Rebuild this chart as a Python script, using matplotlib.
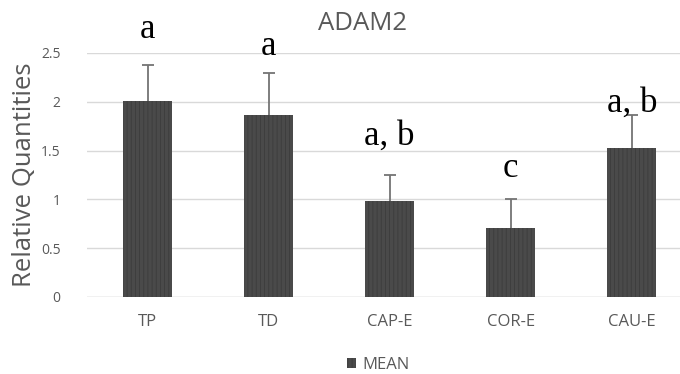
import matplotlib
matplotlib.use("Agg")
import matplotlib.pyplot as plt
from matplotlib.patches import Patch

categories = ["TP", "TD", "CAP-E", "COR-E", "CAU-E"]
means = [2.01, 1.86, 0.98, 0.71, 1.53]
err_up = [0.37, 0.43, 0.27, 0.29, 0.33]
letters = ["a", "a", "a, b", "c", "a, b"]
letter_y = [2.65, 2.48, 1.56, 1.23, 1.90]
yticks = [0, 0.5, 1, 1.5, 2, 2.5]
ytick_labels = ["0", "0.5", "1", "1.5", "2", "2.5"]

plt.rcParams['hatch.linewidth'] = 0.6
fig = plt.figure(figsize=(6.8, 3.74), dpi=100)
ax = fig.add_axes([87/680, 1-297/374, 593/680, (297-53)/374])

x = list(range(len(categories)))
bars = ax.bar(x, means, width=0.405, color='#4a4a4a', edgecolor='#3c3c3c',
              hatch='||||', linewidth=0, zorder=3)
eb = ax.errorbar(x, means, yerr=[[0]*len(means), err_up], fmt='none',
                 ecolor='#747474', elinewidth=1.3, capsize=4, capthick=1.3, zorder=4)
caplines = eb[1]
if len(caplines) >= 2:
    caplines[0].set_visible(False)

for xi, t, yy in zip(x, letters, letter_y):
    ax.text(xi, yy, t, ha='center', va='baseline', fontsize=25,
            family='Liberation Serif', color='black', zorder=5)

ax.set_xlim(-0.5, 4.397)
ax.set_ylim(0, 2.5)
ax.set_yticks(yticks)
ax.set_yticklabels(ytick_labels)
ax.set_xticks(x)
ax.set_xticklabels(categories)
ax.tick_params(axis='both', length=0, labelcolor='#595959')
ax.tick_params(axis='x', labelsize=12, pad=12)
ax.tick_params(axis='y', labelsize=10, pad=19)
for lab in ax.get_xticklabels() + ax.get_yticklabels():
    lab.set_family('Open Sans')
ax.yaxis.grid(True, color='#d9d9d9', linewidth=1, zorder=0)
for s in ax.spines.values():
    s.set_visible(False)
ax.axhline(0, color='#d9d9d9', linewidth=1, zorder=1)

ax.set_ylabel("Relative Quantities", fontsize=18.5, color='#595959',
              family='Open Sans')
ax.yaxis.set_label_coords((37-87)/593, 0.5)
fig.text(362/680, 1-30/374, "ADAM2", ha='center', va='baseline', fontsize=18.5,
         color='#595959', family='Open Sans')

handle = Patch(facecolor='#4a4a4a', edgecolor='#3c3c3c', hatch='||||', linewidth=0)
fig.legend([handle], ["MEAN"], loc='center', bbox_to_anchor=(378.5/680, 1-365/374),
           frameon=False, handlelength=0.55, handleheight=0.55, handletextpad=0.36,
           borderpad=0, prop={'family': 'Open Sans', 'size': 12}, labelcolor='#595959')

fig.savefig("out.png", dpi=100)
